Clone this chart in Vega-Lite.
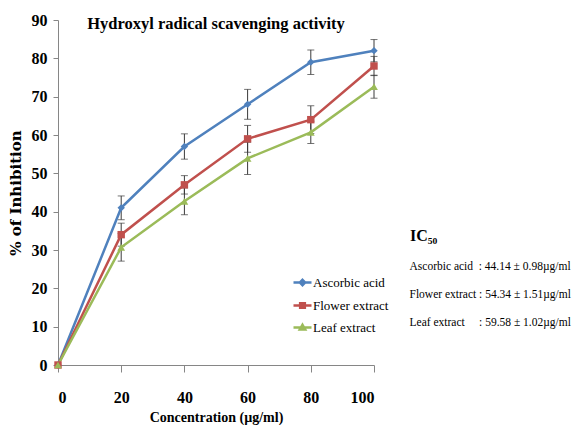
{
  "$schema": "https://vega.github.io/schema/vega-lite/v6.json",
  "autosize": "none",
  "width": 316,
  "height": 345,
  "padding": {"left": 58, "top": 20, "right": 208, "bottom": 60},
  "background": "white",
  "title": {
    "text": "Hydroxyl radical scavenging activity",
    "font": "Liberation Serif",
    "fontSize": 16.5,
    "fontWeight": "bold",
    "color": "black",
    "anchor": "middle",
    "frame": "group",
    "baseline": "alphabetic",
    "offset": -33
  },
  "config": {
    "view": {"stroke": null},
    "font": "Liberation Serif",
    "axis": {
      "grid": false,
      "domainColor": "#868686",
      "tickColor": "#868686",
      "labelFont": "Liberation Serif",
      "labelFontWeight": "bold",
      "labelFontSize": 16,
      "labelColor": "black",
      "titleFont": "Liberation Serif",
      "titleFontWeight": "bold",
      "titleColor": "black"
    }
  },
  "data": {
    "values": [
      {"conc": 0, "series": "Ascorbic acid", "value": 0, "err": 0},
      {"conc": 20, "series": "Ascorbic acid", "value": 41, "err": 3.1},
      {"conc": 40, "series": "Ascorbic acid", "value": 57, "err": 3.3},
      {"conc": 60, "series": "Ascorbic acid", "value": 68, "err": 3.9},
      {"conc": 80, "series": "Ascorbic acid", "value": 79, "err": 3.2},
      {"conc": 100, "series": "Ascorbic acid", "value": 82, "err": 2.9},
      {"conc": 0, "series": "Flower extract", "value": 0, "err": 0},
      {"conc": 20, "series": "Flower extract", "value": 34, "err": 3},
      {"conc": 40, "series": "Flower extract", "value": 47, "err": 2.4},
      {"conc": 60, "series": "Flower extract", "value": 59, "err": 3.5},
      {"conc": 80, "series": "Flower extract", "value": 64, "err": 3.6},
      {"conc": 100, "series": "Flower extract", "value": 78, "err": 2.5},
      {"conc": 0, "series": "Leaf extract", "value": 0, "err": 0},
      {"conc": 20, "series": "Leaf extract", "value": 30.7, "err": 3.6},
      {"conc": 40, "series": "Leaf extract", "value": 42.7, "err": 3.5},
      {"conc": 60, "series": "Leaf extract", "value": 53.9, "err": 4.2},
      {"conc": 80, "series": "Leaf extract", "value": 60.7, "err": 2.9},
      {"conc": 100, "series": "Leaf extract", "value": 72.6, "err": 3}
    ]
  },
  "encoding": {
    "x": {
      "field": "conc",
      "type": "quantitative",
      "scale": {"domain": [0, 100], "nice": false},
      "axis": {
        "title": "Concentration (µg/ml)",
        "titleFontSize": 14,
        "titlePadding": 5,
        "values": [0, 20, 40, 60, 80, 100],
        "tickSize": 7,
        "labelPadding": 17
      }
    },
    "y": {
      "field": "value",
      "type": "quantitative",
      "scale": {"domain": [0, 90], "nice": false},
      "axis": {
        "title": "% of Inhibition",
        "titleFont": "DejaVu Serif",
        "titleFontSize": 15,
        "titlePadding": 8,
        "values": [0, 10, 20, 30, 40, 50, 60, 70, 80, 90],
        "tickSize": 5,
        "labelPadding": 6
      }
    }
  },
  "layer": [
    {
      "transform": [{"filter": "datum.conc > 0"}],
      "mark": {
        "type": "errorbar",
        "ticks": {"color": "#3a3a3a", "size": 7},
        "rule": {"color": "#3a3a3a", "strokeWidth": 1}
      },
      "encoding": {
        "yError": {"field": "err"},
        "detail": {"field": "series"}
      }
    },
    {
      "transform": [{"filter": "datum.series === 'Ascorbic acid'"}],
      "mark": {"type": "line", "strokeWidth": 2.5, "color": "#4F81BD"}
    },
    {
      "transform": [{"filter": "datum.series === 'Flower extract'"}],
      "mark": {"type": "line", "strokeWidth": 2.5, "color": "#C0504D"}
    },
    {
      "transform": [{"filter": "datum.series === 'Leaf extract'"}],
      "mark": {"type": "line", "strokeWidth": 2.5, "color": "#9BBB59"}
    },
    {
      "transform": [{"filter": "datum.series === 'Ascorbic acid'"}],
      "mark": {"type": "point", "filled": true, "opacity": 1, "size": 55, "shape": "diamond", "color": "#4F81BD"}
    },
    {
      "transform": [{"filter": "datum.series === 'Flower extract'"}],
      "mark": {"type": "point", "filled": true, "opacity": 1, "size": 55, "shape": "square", "color": "#C0504D"}
    },
    {
      "transform": [{"filter": "datum.series === 'Leaf extract'"}],
      "mark": {"type": "point", "filled": true, "opacity": 1, "size": 60, "shape": "triangle-up", "color": "#9BBB59"}
    },
    {
      "mark": {"type": "point", "filled": false, "opacity": 0, "strokeWidth": 2.5},
      "encoding": {
        "color": {
          "field": "series",
          "type": "nominal",
          "scale": {
            "domain": ["Ascorbic acid", "Flower extract", "Leaf extract"],
            "range": ["#4F81BD", "#C0504D", "#9BBB59"]
          },
          "legend": {
            "title": null,
            "orient": "none",
            "legendX": 234,
            "legendY": 252,
            "labelFont": "Liberation Serif",
            "labelFontSize": 13,
            "labelColor": "black",
            "labelOffset": 0,
            "symbolSize": 324,
            "symbolOpacity": 1,
            "symbolStrokeWidth": 2.5,
            "rowPadding": 4
          }
        },
        "shape": {
          "field": "series",
          "type": "nominal",
          "scale": {
            "domain": ["Ascorbic acid", "Flower extract", "Leaf extract"],
            "range": [
              "M-1,0H1M0,-0.29L0.29,0L0,0.29L-0.29,0ZM0,-0.09L0.09,0L0,0.09L-0.09,0Z",
              "M-1,0H1M-0.26,-0.26H0.26V0.26H-0.26ZM-0.08,-0.08H0.08V0.08H-0.08Z",
              "M-1,0H1M0,-0.3L0.3,0.22H-0.3ZM0,-0.04L0.08,0.1H-0.08Z"
            ]
          },
          "legend": {
            "title": null,
            "orient": "none",
            "legendX": 234,
            "legendY": 252,
            "labelFont": "Liberation Serif",
            "labelFontSize": 13,
            "labelColor": "black",
            "labelOffset": 0,
            "symbolSize": 324,
            "symbolOpacity": 1,
            "symbolStrokeWidth": 2.5,
            "rowPadding": 4
          }
        }
      }
    },
    {
      "data": {
        "values": [
          {"ic50": "Ascorbic acid\u00a0\u00a0: 44.14 ± 0.98µg/ml"},
          {"ic50": "Flower extract : 54.34 ± 1.51µg/ml"},
          {"ic50": "Leaf extract\u00a0\u00a0\u00a0\u00a0\u00a0: 59.58 ± 1.02µg/ml"}
        ]
      },
      "mark": {"type": "point", "opacity": 0},
      "encoding": {
        "x": null,
        "y": null,
        "strokeDash": {
          "field": "ic50",
          "type": "nominal",
          "legend": {
            "title": "IC₅₀",
            "orient": "none",
            "legendX": 352,
            "legendY": 208,
            "titleFont": "Liberation Serif",
            "titleFontSize": 16,
            "titleFontWeight": "bold",
            "titleColor": "black",
            "titlePadding": 17,
            "labelFont": "Liberation Serif",
            "labelFontSize": 11.5,
            "labelColor": "black",
            "labelLimit": 300,
            "labelOffset": -12,
            "symbolSize": 0,
            "symbolStrokeWidth": 0,
            "symbolOpacity": 0,
            "rowPadding": 15
          }
        }
      }
    }
  ]
}
